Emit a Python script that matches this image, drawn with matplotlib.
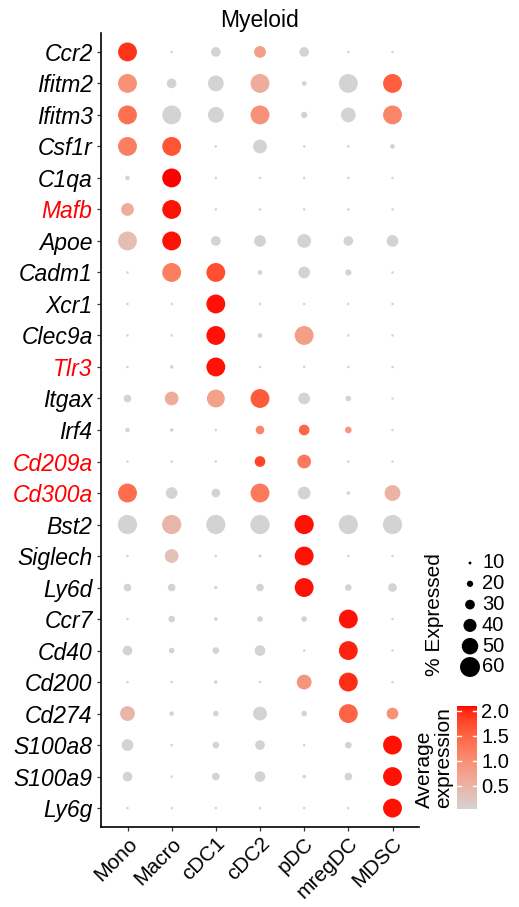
import numpy as np
import matplotlib
matplotlib.use("Agg")
import matplotlib.pyplot as plt
from matplotlib.colors import ListedColormap, Normalize

plt.rcParams["font.family"] = ["Liberation Sans", "DejaVu Sans"]

# ---- data -------------------------------------------------------------
clusters = ["Mono", "Macro", "cDC1", "cDC2", "pDC", "mregDC", "MDSC"]

genes = ["Ccr2", "Ifitm2", "Ifitm3", "Csf1r", "C1qa", "Mafb", "Apoe", "Cadm1",
         "Xcr1", "Clec9a", "Tlr3", "Itgax", "Irf4", "Cd209a", "Cd300a", "Bst2",
         "Siglech", "Ly6d", "Ccr7", "Cd40", "Cd200", "Cd274", "S100a8",
         "S100a9", "Ly6g"]

highlighted_genes = ["Mafb", "Tlr3", "Cd209a", "Cd300a"]

# percent of cells expressing each gene (rows = genes, cols = clusters)
pct_expressed = [
    [57, 9, 30, 36, 30, 9, 9],      # Ccr2
    [57, 30, 48, 57, 15, 57, 57],   # Ifitm2
    [57, 57, 48, 57, 20, 45, 57],   # Ifitm3
    [57, 57, 9, 42, 9, 9, 15],      # Csf1r
    [15, 57, 9, 9, 9, 9, 9],        # C1qa
    [39, 57, 9, 9, 9, 9, 9],        # Mafb
    [57, 57, 30, 36, 42, 30, 36],   # Apoe
    [9, 57, 57, 15, 36, 20, 9],     # Cadm1
    [9, 9, 57, 9, 9, 9, 9],         # Xcr1
    [9, 9, 57, 15, 57, 9, 9],       # Clec9a
    [9, 12, 57, 9, 9, 9, 9],        # Tlr3
    [24, 42, 54, 57, 36, 18, 9],    # Itgax
    [15, 12, 9, 27, 33, 21, 9],     # Irf4
    [9, 9, 9, 33, 42, 9, 9],        # Cd209a
    [57, 36, 27, 57, 39, 12, 48],   # Cd300a
    [58, 58, 58, 58, 58, 58, 58],   # Bst2
    [9, 42, 9, 11, 57, 9, 9],       # Siglech
    [24, 24, 11, 24, 57, 21, 27],   # Ly6d
    [9, 21, 12, 18, 18, 57, 9],     # Ccr7
    [30, 18, 21, 33, 9, 57, 9],     # Cd40
    [9, 9, 12, 9, 45, 57, 9],       # Cd200
    [45, 15, 18, 42, 18, 57, 36],   # Cd274
    [36, 9, 21, 30, 9, 21, 57],     # S100a8
    [30, 9, 24, 33, 12, 24, 57],    # S100a9
    [9, 9, 9, 9, 9, 9, 57],         # Ly6g
]

# average (scaled) expression
avg_expression = [
    [1.90, 0.03, 0.03, 0.80, 0.03, 0.03, 0.03],   # Ccr2
    [0.95, 0.03, 0.03, 0.60, 0.03, 0.03, 1.55],   # Ifitm2
    [1.35, 0.03, 0.03, 0.95, 0.03, 0.03, 1.10],   # Ifitm3
    [1.20, 1.65, 0.03, 0.03, 0.03, 0.03, 0.03],   # Csf1r
    [0.03, 2.09, 0.03, 0.03, 0.03, 0.03, 0.03],   # C1qa
    [0.60, 2.05, 0.03, 0.03, 0.03, 0.03, 0.03],   # Mafb
    [0.35, 2.05, 0.03, 0.03, 0.03, 0.03, 0.03],   # Apoe
    [0.03, 1.20, 1.70, 0.03, 0.03, 0.03, 0.03],   # Cadm1
    [0.03, 0.03, 2.05, 0.03, 0.03, 0.03, 0.03],   # Xcr1
    [0.03, 0.03, 2.05, 0.03, 0.80, 0.03, 0.03],   # Clec9a
    [0.03, 0.03, 2.05, 0.03, 0.03, 0.03, 0.03],   # Tlr3
    [0.03, 0.60, 0.75, 1.60, 0.03, 0.03, 0.03],   # Itgax
    [0.03, 0.03, 0.03, 1.10, 1.45, 0.90, 0.03],   # Irf4
    [0.03, 0.03, 0.03, 1.80, 1.25, 0.03, 0.03],   # Cd209a
    [1.40, 0.03, 0.03, 1.25, 0.03, 0.03, 0.50],   # Cd300a
    [0.03, 0.45, 0.03, 0.03, 2.05, 0.03, 0.03],   # Bst2
    [0.03, 0.30, 0.03, 0.03, 2.05, 0.03, 0.03],   # Siglech
    [0.03, 0.03, 0.03, 0.03, 2.05, 0.03, 0.03],   # Ly6d
    [0.03, 0.03, 0.03, 0.03, 0.03, 2.05, 0.03],   # Ccr7
    [0.03, 0.03, 0.03, 0.03, 0.03, 2.00, 0.03],   # Cd40
    [0.03, 0.03, 0.03, 0.03, 0.90, 1.95, 0.03],   # Cd200
    [0.45, 0.03, 0.03, 0.03, 0.03, 1.50, 0.95],   # Cd274
    [0.03, 0.03, 0.03, 0.03, 0.03, 0.03, 2.05],   # S100a8
    [0.03, 0.03, 0.03, 0.03, 0.03, 0.03, 2.05],   # S100a9
    [0.03, 0.03, 0.03, 0.03, 0.03, 0.03, 2.05],   # Ly6g
]

size_breaks = [10, 20, 30, 40, 50, 60]
color_breaks = [0.5, 1.0, 1.5, 2.0]
color_limits = (0.03, 2.09)

# ---- colour scale: lightgrey -> red interpolated in CIELAB ------------
_M = np.array([[0.4124564, 0.3575761, 0.1804375],
               [0.2126729, 0.7151522, 0.0721750],
               [0.0193339, 0.1191920, 0.9503041]])
_WHITE = np.array([0.95047, 1.0, 1.08883])
_D = 6 / 29


def rgb_to_lab(rgb):
    c = np.asarray(rgb, float)
    lin = np.where(c <= 0.04045, c / 12.92, ((c + 0.055) / 1.055) ** 2.4)
    xyz = _M @ lin / _WHITE
    f = np.where(xyz > _D ** 3, np.cbrt(xyz), xyz / (3 * _D ** 2) + 4 / 29)
    return np.array([116 * f[1] - 16, 500 * (f[0] - f[1]), 200 * (f[1] - f[2])])


def lab_to_rgb(lab):
    L, a, b = lab
    fy_ = (L + 16) / 116
    f = np.array([fy_ + a / 500, fy_, fy_ - b / 200])
    xyz = np.where(f > _D, f ** 3, 3 * _D ** 2 * (f - 4 / 29)) * _WHITE
    lin = np.clip(np.linalg.solve(_M, xyz), 0, 1)
    c = np.where(lin <= 0.0031308, 12.92 * lin, 1.055 * lin ** (1 / 2.4) - 0.055)
    return np.clip(c, 0, 1)


lab_lo = rgb_to_lab([211 / 255, 211 / 255, 211 / 255])
lab_hi = rgb_to_lab([1.0, 0.0, 0.0])
cmap = ListedColormap([lab_to_rgb(lab_lo + t * (lab_hi - lab_lo))
                       for t in np.linspace(0, 1, 256)])
norm = Normalize(*color_limits)

DPI = 100


def dot_area(pct):
    """Marker area (pt^2) for a percentage: diameter grows linearly."""
    dia_px = 0.34 * (np.asarray(pct, float) - 1.5)
    return (dia_px * 72 / DPI) ** 2


# ---- figure -----------------------------------------------------------
W, H = 519, 907
fig = plt.figure(figsize=(W / DPI, H / DPI), dpi=DPI)


def fx(px):
    return px / W


def fy(py):
    return 1 - py / H


ax = fig.add_axes([fx(101), fy(827), fx(419) - fx(101), fy(33) - fy(827)])

pct = np.array(pct_expressed)
avg = np.array(avg_expression)
xx, yy = np.meshgrid(np.arange(len(clusters)), np.arange(len(genes)))
ax.scatter(xx.ravel(), yy.ravel(), s=dot_area(pct.ravel()),
           c=avg.ravel(), cmap=cmap, norm=norm, linewidths=0, zorder=3)

ax.set_xlim(-0.6, len(clusters) - 0.4)
ax.set_ylim(len(genes) - 0.4, -0.6)
ax.set_xticks(range(len(clusters)))
ax.set_xticklabels(clusters, rotation=45, ha="right", va="top",
                   rotation_mode="anchor", fontsize=15)
ax.set_yticks(range(len(genes)))
ax.set_yticklabels(genes, fontsize=16.5, style="italic")
for lbl in ax.get_yticklabels():
    if lbl.get_text() in highlighted_genes:
        lbl.set_color("#FF0000")

for side in ("top", "right"):
    ax.spines[side].set_visible(False)
for side in ("left", "bottom"):
    ax.spines[side].set_linewidth(1.2)
ax.tick_params(axis="both", length=3, width=0.9, color="#333333")
ax.tick_params(axis="y", pad=3)
ax.tick_params(axis="x", pad=2)

fig.text(fx(260), fy(21), "Myeloid", ha="center", va="center", fontsize=16.5)

# ---- size legend ------------------------------------------------------
lax = fig.add_axes([0, 0, 1, 1])
lax.set_xlim(0, W)
lax.set_ylim(H, 0)
lax.axis("off")
leg_y = 563 + 20.8 * np.arange(len(size_breaks))
lax.scatter(np.full(len(size_breaks), 470), leg_y, s=dot_area(size_breaks),
            color="black", linewidths=0)
for yv, lab in zip(leg_y, size_breaks):
    lax.text(482, yv, str(lab), ha="left", va="center", fontsize=14.5)
lax.text(434, leg_y.mean(), "% Expressed", rotation=90, ha="center",
         va="center", fontsize=15)

# ---- colour legend ----------------------------------------------------
cax = fig.add_axes([fx(457), fy(809), fx(477) - fx(457), fy(706) - fy(809)])
sm = plt.cm.ScalarMappable(norm=norm, cmap=cmap)
cb = fig.colorbar(sm, cax=cax, ticks=color_breaks)
cb.outline.set_visible(False)
cb.ax.set_yticklabels([f"{b:.1f}" for b in color_breaks], fontsize=14.5)
cb.ax.tick_params(length=0, pad=3)
tr = cax.get_yaxis_transform()
for b in color_breaks:
    cax.plot([0, 0.2], [b, b], color="white", lw=1, transform=tr)
    cax.plot([0.8, 1], [b, b], color="white", lw=1, transform=tr)
lax.text(434, 758, "Average\nexpression", rotation=90, ha="center",
         va="center", multialignment="left", fontsize=15, linespacing=0.95)

fig.savefig("out.png", dpi=DPI)
